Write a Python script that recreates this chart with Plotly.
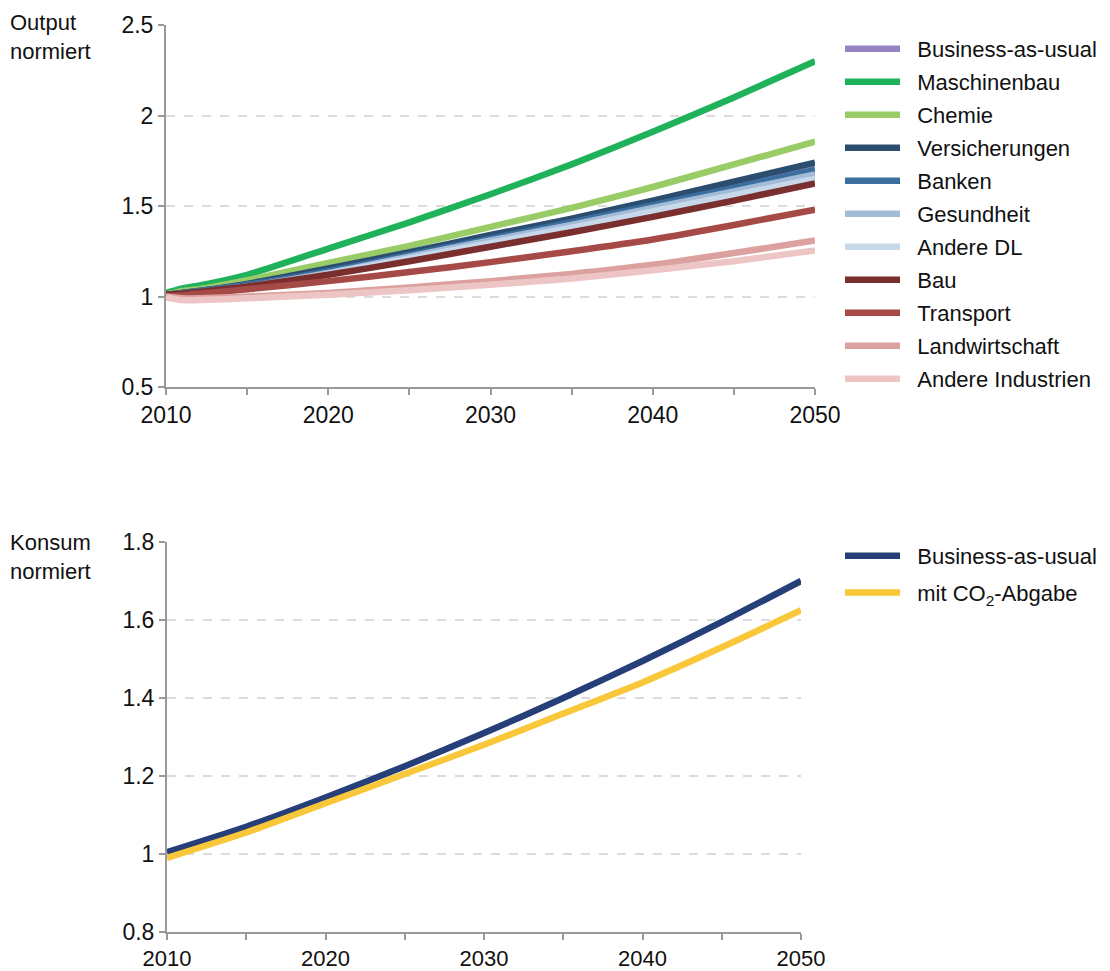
import plotly.graph_objects as go

# ---------------- data ----------------
years_top = [2010, 2011, 2012, 2015, 2020, 2025, 2030, 2035, 2040, 2045, 2050]
sector_names = ["Business-as-usual", "Maschinenbau", "Chemie", "Versicherungen", "Banken",
                "Gesundheit", "Andere DL", "Bau", "Transport", "Landwirtschaft", "Andere Industrien"]
bau_top = [1.01, 1.02, 1.03, 1.065, 1.145, 1.235, 1.325, 1.415, 1.51, 1.605, 1.705]
maschinenbau = [1.02, 1.045, 1.06, 1.12, 1.265, 1.41, 1.565, 1.73, 1.91, 2.10, 2.30]
chemie = [1.01, 1.03, 1.04, 1.09, 1.185, 1.28, 1.385, 1.49, 1.605, 1.73, 1.855]
versicherungen = [1.01, 1.02, 1.03, 1.07, 1.155, 1.245, 1.34, 1.43, 1.53, 1.635, 1.74]
banken = [1.01, 1.02, 1.03, 1.065, 1.14, 1.23, 1.32, 1.41, 1.505, 1.60, 1.70]
gesundheit = [1.0, 1.01, 1.02, 1.055, 1.13, 1.22, 1.31, 1.395, 1.49, 1.58, 1.675]
andere_dl = [1.0, 1.01, 1.02, 1.05, 1.125, 1.21, 1.295, 1.38, 1.47, 1.56, 1.65]
bau = [1.01, 1.015, 1.025, 1.055, 1.12, 1.195, 1.275, 1.355, 1.44, 1.53, 1.625]
transport = [1.0, 1.005, 1.015, 1.04, 1.085, 1.135, 1.19, 1.25, 1.315, 1.395, 1.48]
landwirtschaft = [1.0, 0.99, 0.99, 1.0, 1.02, 1.05, 1.085, 1.125, 1.175, 1.24, 1.31]
andere_industrien = [0.995, 0.98, 0.98, 0.99, 1.01, 1.035, 1.065, 1.10, 1.145, 1.195, 1.255]
sector_values = [bau_top, maschinenbau, chemie, versicherungen, banken, gesundheit,
                 andere_dl, bau, transport, landwirtschaft, andere_industrien]
sector_colors = ["#9484c4", "#1fb25a", "#99cc66", "#2b4d70", "#3b6e9e", "#a2bcd8",
                 "#c6d8ea", "#7a2f2e", "#a64a47", "#dba19f", "#ecc5c4"]

years_bottom = [2010, 2015, 2020, 2025, 2030, 2035, 2040, 2045, 2050]
konsum_names = ["Business-as-usual", "mit CO<sub>2</sub>-Abgabe"]
konsum_bau = [1.005, 1.07, 1.145, 1.225, 1.31, 1.40, 1.495, 1.595, 1.70]
konsum_co2 = [0.99, 1.055, 1.13, 1.205, 1.28, 1.36, 1.44, 1.53, 1.625]
konsum_colors = ["#263f78", "#f9c73a"]

top_yticks = [0.5, 1, 1.5, 2, 2.5]
top_ytext = ["0.5", "1", "1.5", "2", "2.5"]
bot_yticks = [0.8, 1.0, 1.2, 1.4, 1.6, 1.8]
bot_ytext = ["0.8", "1", "1.2", "1.4", "1.6", "1.8"]
xticks = [2010, 2020, 2030, 2040, 2050]

# ---------------- figure ----------------
# page body has an 8px margin, so the figure is drawn 8px in from the window corner
OFF = 8
W, H = 1110 - OFF, 971 - OFF
FONT = "Liberation Sans, Arial, sans-serif"
FS = 23
PAD = "\u00a0\u00a0"  # small gap between legend line and its label
fig = go.Figure()

for i, (name, vals, col) in enumerate(zip(sector_names, sector_values, sector_colors)):
    fig.add_trace(go.Scatter(x=years_top, y=vals, name=PAD + name, mode="lines",
                             line=dict(color=col, width=6.5, shape="spline", smoothing=0.6),
                             xaxis="x", yaxis="y", legend="legend", legendgroup=f"t{i}"))

for i, (name, vals, col) in enumerate(zip(konsum_names, [konsum_bau, konsum_co2], konsum_colors)):
    fig.add_trace(go.Scatter(x=years_bottom, y=vals, name=PAD + name, mode="lines",
                             line=dict(color=col, width=6.5, shape="spline", smoothing=0.6),
                             xaxis="x2", yaxis="y2", legend="legend2", legendgroup=f"b{i}"))

def px_x(p):  # screen px -> paper fraction
    return (p - OFF) / W

def px_y(p):
    return 1 - (p - OFF) / H

axis_common = dict(showline=True, linecolor="#999999", linewidth=2,
                   ticks="outside", ticklen=6, tickcolor="#999999", tickwidth=1.5,
                   zeroline=False, automargin=False)
tickfont = dict(size=FS, color="#111111", family=FONT)

minor_ticks = dict(dtick=5, tick0=2010, ticks="outside", ticklen=6, tickcolor="#999999",
                   tickwidth=1.5, showgrid=False)

fig.update_layout(
    width=W, height=H,
    margin=dict(l=0, r=0, t=0, b=0),
    paper_bgcolor="white", plot_bgcolor="white",
    font=dict(family=FONT, size=FS, color="#111111"),
    xaxis=dict(domain=[px_x(166), px_x(815)], range=[2010, 2050], tickvals=xticks,
               showgrid=False, anchor="y", minor=minor_ticks, tickfont=tickfont, **axis_common),
    yaxis=dict(domain=[px_y(387), px_y(25)], range=[0.5, 2.5], tickvals=top_yticks, ticktext=top_ytext,
               showgrid=True, gridcolor="#dcdcdc", griddash="dash", gridwidth=1.5, anchor="x",
               tickfont=tickfont, **axis_common),
    xaxis2=dict(domain=[px_x(167), px_x(801)], range=[2010, 2050], tickvals=xticks,
                showgrid=False, anchor="y2", minor=minor_ticks,
                tickfont=dict(size=FS - 1, color="#111111", family=FONT), **axis_common),
    yaxis2=dict(domain=[px_y(932), px_y(542)], range=[0.8, 1.8], tickvals=bot_yticks, ticktext=bot_ytext,
                showgrid=True, gridcolor="#dcdcdc", griddash="dash", gridwidth=1.5, anchor="x2",
                tickfont=tickfont, **axis_common),
    legend=dict(x=px_x(840), y=px_y(28), xanchor="left", yanchor="top",
                font=dict(size=FS - 1, family=FONT, color="#111111"),
                tracegroupgap=1.4, itemwidth=55, bgcolor="rgba(0,0,0,0)"),
    legend2=dict(x=px_x(840), y=px_y(535), xanchor="left", yanchor="top",
                 font=dict(size=FS - 1, family=FONT, color="#111111"),
                 tracegroupgap=5, itemwidth=55, bgcolor="rgba(0,0,0,0)"),
    showlegend=True,
)

fig.add_annotation(text="Output<br>normiert", x=px_x(8), y=px_y(8), xref="paper", yref="paper",
                   xanchor="left", yanchor="top", align="left", showarrow=False,
                   font=dict(size=FS - 1, family=FONT, color="#111111"))
fig.add_annotation(text="Konsum<br>normiert", x=px_x(8), y=px_y(528), xref="paper", yref="paper",
                   xanchor="left", yanchor="top", align="left", showarrow=False,
                   font=dict(size=FS - 1, family=FONT, color="#111111"))

fig.write_html("out.html")
